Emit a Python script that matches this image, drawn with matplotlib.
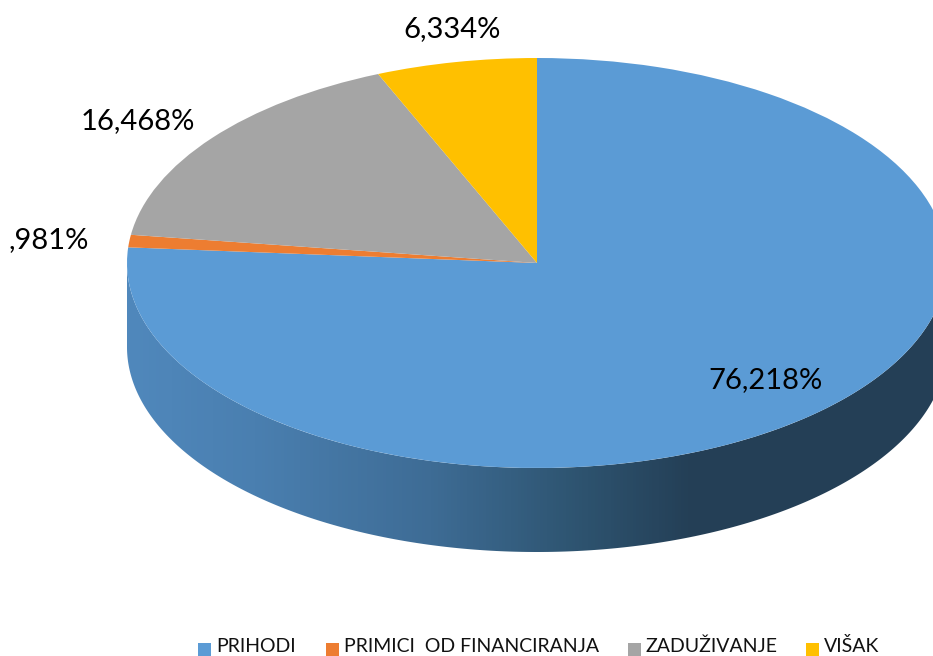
import numpy as np
import matplotlib
matplotlib.use("Agg")
import matplotlib.pyplot as plt
from matplotlib.colors import LinearSegmentedColormap
from matplotlib.patches import Polygon, Rectangle

plt.rcParams['font.family'] = ['Lato', 'DejaVu Sans']

categories = ["PRIHODI", "PRIMICI  OD FINANCIRANJA", "ZADUŽIVANJE", "VIŠAK"]
values = [76.218, 0.981, 16.468, 6.334]
value_labels = ["76,218%", ",981%", "16,468%", "6,334%"]
colors = ["#5B9BD5", "#ED7D31", "#A5A5A5", "#FFC000"]

W, H = 933, 656
CX, CY = 537, 263     # pie centre in pixels
RX, RY = 410, 205
DEPTH = 84

fig = plt.figure(figsize=(W / 100, H / 100), dpi=100)
ax = fig.add_axes([0, 0, 1, 1])

# unit circle of the pie gets squashed to an ellipse by the axis limits
ax.pie(values, colors=colors, startangle=90, counterclock=False, radius=1, wedgeprops={'zorder': 3})
ax.set_aspect('auto')
ax.axis('off')

# side wall of the 3d pie, gradient clipped to the swept lower half
d = DEPTH / RY
t = np.linspace(np.pi, 2 * np.pi, 300)
wall = np.vstack([
    np.column_stack([np.cos(t), np.sin(t)]),
    np.column_stack([np.cos(t[::-1]), np.sin(t[::-1]) - d]),
])
wall_patch = Polygon(wall, closed=True, transform=ax.transData, fc='none', ec='none')
ax.add_patch(wall_patch)
wall_cmap = LinearSegmentedColormap.from_list(
    "wall", [(0, "#5088BC"), (0.155, "#4A7FB0"), (0.37, "#3E6C95"), (0.535, "#2F5673"), (0.69, "#243F56"), (1, "#243F56")])
grad = np.linspace(0, 1, 256).reshape(1, -1)
im = ax.imshow(grad, cmap=wall_cmap, extent=[-1, 1, -1 - d, 0], aspect='auto', zorder=2)
im.set_clip_path(wall_patch)
ax.set_xlim((0 - CX) / RX, (W - CX) / RX)
ax.set_ylim((CY - H) / RY, (CY - 0) / RY)

# labels, in pixel coords
def px(x, y):
    return (x / W, 1 - y / H)

label_pos = [(765, 380), (49, 240), (138, 121), (452, 29)]
for txt, (x, y) in zip(value_labels, label_pos):
    fx, fy = px(x, y)
    fig.text(fx, fy, txt, fontsize=21, color='black', ha='center', va='center', zorder=5)

# legend at the bottom
legend_x = [198, 326, 628, 806]
for name, col, x in zip(categories, colors, legend_x):
    fx, fy = px(x, 656)
    fig.add_artist(Rectangle((fx, fy), 13 / W, 13 / H, transform=fig.transFigure, fc=col, ec='none'))
    tx, ty = px(x + 18, 652)
    fig.text(tx, ty, name, fontsize=14, color='#111111', ha='left', va='baseline')

fig.savefig("out.png", dpi=100)
